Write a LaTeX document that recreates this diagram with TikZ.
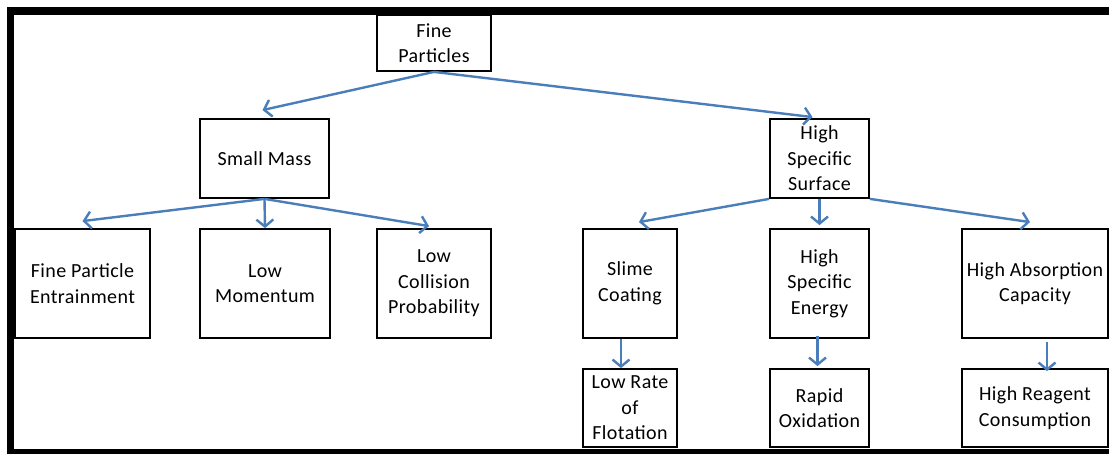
\documentclass[tikz,border=0pt]{standalone}
\usepackage{fontspec}
\setmainfont{Carlito}[LetterSpace=2]
\usetikzlibrary{arrows.meta}
\definecolor{arrblue}{RGB}{74,126,187}
\begin{document}
\begin{tikzpicture}[x=1pt,y=-1pt,
        box/.style={draw=black, line width=1.8pt, rectangle, align=center, inner sep=0pt,
            font=\fontsize{20}{25.5}\selectfont},
        arr/.style={draw=arrblue, line width=2.4pt, -{Straight Barb[length=7pt,width=17pt]}}]
                \useasboundingbox (0,0) rectangle (1109,454);
                \fill[black] (7,7) rectangle (1109,15);
                \fill[black] (7,7) rectangle (14,454);
                \fill[black] (7,449) rectangle (1109,454);

                \node [box, minimum width=114pt, minimum height=56pt] (fine) at (434,43) {Fine\\Particles};

                \node [box, minimum width=129pt, minimum height=79pt] (mass) at (264.5,158.5) {Small Mass};
                \node [box, minimum width=99pt, minimum height=79pt] (surf) at (819.5,158.5) {High\\Specific\\Surface};

                \node [box, minimum width=135pt, minimum height=109pt] (entr) at (82.5,283.5) {Fine Particle\\Entrainment};
                \node [box, minimum width=130pt, minimum height=109pt] (mom) at (265,283.5) {Low\\Momentum};
                \node [box, minimum width=114pt, minimum height=109pt] (coll) at (434,283.5) {Low\\Collision\\Probability};
                \node [box, minimum width=94pt, minimum height=109pt] (slime) at (630,283.5) {Slime\\Coating};
                \node [box, minimum width=99pt, minimum height=109pt] (energy) at (819.5,283.5) {High\\Specific\\Energy};
                \node [box, minimum width=146pt, minimum height=109pt] (absorb) at (1035,283.5) {High Absorption\\Capacity};

                \node [box, minimum width=94pt, minimum height=78pt] (flot) at (630,408) {Low Rate\\of\\Flotation};
                \node [box, minimum width=99pt, minimum height=78pt] (oxid) at (819.5,408) {Rapid\\Oxidation};
                \node [box, minimum width=146pt, minimum height=78pt] (reag) at (1035,408) {High Reagent\\Consumption};

                \draw[arr] (fine.south) -- ([xshift=-2pt,yshift=8pt]mass.north);
                \draw[arr] (fine.south) -- ([xshift=-7pt,yshift=1pt]surf.north);

                \draw[arr] (mass.south) -- ([yshift=7pt]entr.north);
                \draw[arr] (mass.south) -- (mom.north);
                \draw[arr] (mass.south) -- ([xshift=-5pt,yshift=2pt]coll.north);

                \draw[arr] (surf.south west) -- ([xshift=9pt,yshift=6pt]slime.north);
                \draw[arr] (surf.south) -- ([yshift=3pt]energy.north);
                \draw[arr] (surf.south east) -- ([xshift=-5pt,yshift=6pt]absorb.north);

                \draw[arr] ([xshift=-9pt]slime.south) -- ([xshift=-9pt]flot.north);
                \draw[arr] ([xshift=-2pt,yshift=3pt]energy.south) -- ([xshift=-2pt,yshift=2pt]oxid.north);
                \draw[arr] ([xshift=12pt,yshift=-3pt]absorb.south) -- ([xshift=12pt,yshift=-3pt]reag.north);
            \end{tikzpicture}
\end{document}
